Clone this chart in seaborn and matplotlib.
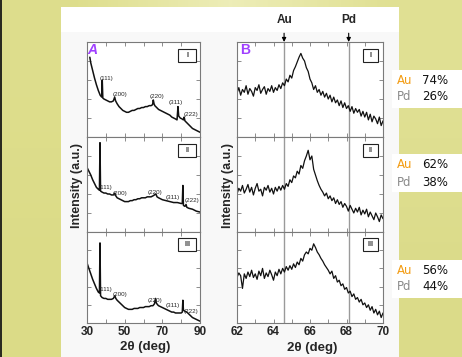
import numpy as np
import pandas as pd
import seaborn as sns
import matplotlib.pyplot as plt
from matplotlib.patches import Rectangle

# Sample compositions
samples = ["I", "II", "III"]
au_pct = [74, 62, 56]
pd_pct = [26, 38, 44]

# Reference peak positions (deg) drawn in panel B
au_ref = 64.58
pd_ref = 68.12

peak_names = ["(111)", "(200)", "(220)", "(311)", "(222)"]

# Panel A: wide scans 30-90 deg (intensity in a.u., 0-100 per frame)
a1_theta = [31.5, 32, 33, 34, 35, 36, 37, 37.8, 38.1, 38.4, 39, 40, 41, 42, 43, 44, 44.7, 45.2,
            46, 47, 48, 49, 50, 51, 52, 53, 54, 55, 56, 57, 58, 59, 60, 61, 62, 63, 64, 64.8,
            65.2, 65.6, 66, 67, 68, 69, 70, 71, 72, 73, 74, 75, 76, 77, 77.8, 78.3, 78.7, 79.5,
            80.5, 81.2, 81.6, 82, 83, 84, 85, 86, 87, 88, 89, 90]
a1_int = [84, 78, 70, 62, 55, 49, 44, 42, 60, 41, 40, 39, 38, 37, 37, 38, 42, 38,
          35, 32, 30, 28, 27, 26, 26, 27, 28, 28, 29, 30, 30, 31, 31, 32, 32, 33, 33, 34,
          39, 35, 33, 31, 29, 28, 27, 26, 25, 24, 23, 21, 20, 19, 18, 32, 22, 20,
          19, 18, 21, 17, 15, 13, 11, 9, 8, 7, 6, 5]

a2_theta = [30, 31, 32, 33, 34, 35, 36, 36.6, 36.9, 37.2, 38, 39, 40, 41, 42, 43, 44, 44.8, 45.3,
            46, 47, 48, 49, 50, 51, 52, 53, 54, 55, 56, 57, 58, 59, 60, 61, 62, 63, 64, 65,
            66.6, 67.2, 68, 70, 72, 74, 76, 78, 80, 80.6, 80.9, 81.2, 82, 82.6, 83, 84, 86, 88, 90]
a2_int = [68, 64, 60, 55, 51, 47, 45, 44, 94, 43, 42, 41, 41, 40, 40, 39, 39, 41, 38,
          36, 35, 34, 33, 32, 32, 32, 33, 33, 34, 34, 35, 35, 36, 36, 36, 37, 37, 37, 38,
          40, 37, 36, 34, 33, 32, 31, 31, 30, 30, 49, 28, 27, 29, 26, 25, 24, 22, 21]

a3_theta = [30, 31, 32, 33, 34, 35, 36, 36.6, 36.9, 37.2, 38, 39, 40, 41, 42, 43, 44, 44.8, 45.3,
            46, 47, 48, 49, 50, 51, 52, 53, 54, 55, 56, 57, 58, 59, 60, 61, 62, 63, 64, 65,
            65.8, 66.4, 66.8, 67.5, 68, 69, 70, 71, 72, 73, 74, 75, 76, 77, 78, 79, 80, 80.6,
            80.9, 81.2, 82, 83, 84, 85, 86, 87, 88, 89, 90]
a3_int = [66, 60, 54, 48, 43, 38, 34, 33, 88, 30, 28, 27, 27, 26, 26, 26, 27, 30, 27,
          25, 23, 21, 19, 17, 16, 15, 15, 15, 16, 16, 16, 17, 17, 17, 18, 18, 18, 19, 19,
          21, 27, 22, 20, 19, 18, 17, 16, 15, 14, 13, 12, 12, 11, 11, 11, 11, 12,
          25, 14, 13, 12, 10, 8, 6, 5, 4, 3, 2]

# Panel B: fine scans around the (220) reflection
b_theta = [62.0, 62.1, 62.2, 62.3, 62.4, 62.5, 62.6, 62.7, 62.8, 62.9,
           63.0, 63.1, 63.2, 63.3, 63.4, 63.5, 63.6, 63.7, 63.8, 63.9,
           64.0, 64.1, 64.2, 64.3, 64.4, 64.5, 64.6, 64.7, 64.8, 64.9,
           65.0, 65.1, 65.2, 65.3, 65.4, 65.5, 65.6, 65.7, 65.8, 65.9,
           66.0, 66.1, 66.2, 66.3, 66.4, 66.5, 66.6, 66.7, 66.8, 66.9,
           67.0, 67.1, 67.2, 67.3, 67.4, 67.5, 67.6, 67.7, 67.8, 67.9,
           68.0, 68.1, 68.2, 68.3, 68.4, 68.5, 68.6, 68.7, 68.8, 68.9,
           69.0, 69.1, 69.2, 69.3, 69.4, 69.5, 69.6, 69.7, 69.8, 69.9,
           70.0]
b1_int = [46, 52, 44, 50, 47, 54, 45, 51, 48, 43,
          52, 49, 55, 46, 50, 53, 45, 51, 48, 54,
          47, 52, 49, 55, 51, 57, 54, 61, 58, 65,
          62, 70, 74, 79, 84, 88, 83, 80, 73, 69,
          61, 57, 50, 54, 47, 50, 44, 48, 42, 46,
          40, 44, 37, 42, 36, 39, 33, 38, 31, 36,
          30, 33, 27, 32, 25, 30, 26, 29, 22, 27,
          21, 26, 18, 24, 16, 22, 19, 14, 21, 12,
          17]
b2_int = [40, 46, 43, 49, 41, 45, 50, 42, 47, 39,
          46, 51, 43, 45, 38, 47, 44, 49, 42, 46,
          40, 47, 43, 48, 44, 49, 45, 51, 48, 55,
          52, 59, 57, 64, 61, 70, 67, 75, 80, 86,
          76, 80, 66, 60, 54, 49, 45, 42, 38, 41,
          35, 38, 33, 36, 30, 34, 29, 32, 26, 30,
          27, 22, 28, 24, 20, 25, 21, 26, 18, 23,
          19, 24, 16, 21, 17, 13, 20, 16, 11, 18,
          14]
b3_int = [50, 55, 52, 38, 54, 49, 56, 51, 58, 50,
          54, 48, 57, 52, 60, 49, 55, 51, 58, 53,
          47, 56, 52, 59, 54, 60, 56, 62, 58, 63,
          59, 65, 61, 67, 64, 71, 68, 75, 78, 76,
          82, 80, 87, 83, 78, 75, 71, 68, 64, 61,
          58, 54, 57, 49, 52, 45, 47, 41, 43, 37,
          39, 33, 35, 29, 32, 26, 28, 23, 26, 20,
          22, 17, 20, 14, 18, 11, 15, 9, 13, 6,
          11]

a_scans = [(a1_theta, a1_int), (a2_theta, a2_int), (a3_theta, a3_int)]
b_scans = [b1_int, b2_int, b3_int]

# label spots for the hkl tags (theta, intensity) per frame
a_tag_xy = [
    [(40.6, 62), (47.5, 45), (67.2, 43), (77.3, 36), (85.2, 24)],
    [(39.6, 47), (47.5, 41), (66.1, 42), (75.7, 36), (85.8, 33)],
    [(39.6, 37), (47.5, 31), (66.1, 25), (75.7, 19), (85.2, 13)],
]

sns.set_style("ticks")
plt.rcParams['font.family'] = ['Liberation Sans', 'DejaVu Sans']

W, H = 462, 357
fig = plt.figure(figsize=(W / 100, H / 100), dpi=100)


def rect(x0, y0, x1, y1):
    return [x0 / W, 1 - y1 / H, (x1 - x0) / W, (y1 - y0) / H]


# slide background
bg = fig.add_axes([0, 0, 1, 1], zorder=-10)
grad = np.array([[[0.87, 0.87, 0.55], [0.93, 0.93, 0.72], [0.88, 0.88, 0.58]],
                 [[0.86, 0.86, 0.53], [0.86, 0.86, 0.54], [0.86, 0.86, 0.54]]])
bg.imshow(grad, extent=[0, 1, 0, 1], aspect='auto', interpolation='bilinear')
bg.set_xlim(0, 1)
bg.set_ylim(0, 1)
bg.axis('off')


def bg_box(x0, y0, x1, y1, color):
    bg.add_patch(Rectangle((x0 / W, 1 - y1 / H), (x1 - x0) / W, (y1 - y0) / H,
                           facecolor=color, edgecolor='none'))


bg_box(0, 0, 2, H, '#2a2a20')
bg_box(61, 7, 399, H, 'white')
bg_box(61, 32, 399, H, '#f8f8f8')
for y0, y1 in [(70, 108), (154, 192), (260, 298)]:
    bg_box(392, y0, W, y1, 'white')

rows = [(42, 137), (137, 232), (232, 323)]
spine_col = '#7a7a7a'


def style_axes(ax):
    ax.set_ylim(0, 100)
    ax.set_yticks([20, 40, 60, 80])
    ax.set_yticklabels([])
    ax.set_xlabel('')
    ax.set_ylabel('')
    ax.set_facecolor('white')
    ax.tick_params(direction='in', top=True, right=True, length=3, width=0.6,
                   color=spine_col, labelsize=8.5, pad=2)
    for s in ax.spines.values():
        s.set_color(spine_col)
        s.set_linewidth(0.8)
    for lab in ax.get_xticklabels():
        lab.set_fontweight('bold')


def tag_box(ax, w, h, text):
    # little sample-number box in the upper right corner
    ax.add_patch(Rectangle((0.965 - w, 0.93 - h), w, h, transform=ax.transAxes,
                           facecolor='white', edgecolor='#222222', lw=0.8))
    ax.text(0.965 - w / 2, 0.93 - h / 2, text, transform=ax.transAxes, ha='center',
            va='center', fontsize=5, fontweight='bold')


axes_b = []
for i, (top, bot) in enumerate(rows):
    # panel A
    ax = fig.add_axes(rect(87, top, 200, bot))
    th, it = a_scans[i]
    sns.lineplot(x=th, y=it, ax=ax, color='#111111', lw=1.1, estimator=None)
    ax.set_xlim(30, 90)
    ax.set_xticks(range(30, 91, 10))
    style_axes(ax)
    if i == 2:
        ax.set_xticklabels(['30', '', '50', '', '70', '', '90'], fontweight='bold')
    else:
        ax.tick_params(labelbottom=False)
    for name, (tx, ty) in zip(peak_names, a_tag_xy[i]):
        ax.text(tx, ty, name, ha='center', va='center', fontsize=4.5)
    tag_box(ax, 18 / 113, 13 / (bot - top), samples[i])

    # panel B
    bx = fig.add_axes(rect(237, top, 383, bot))
    sns.lineplot(x=b_theta, y=b_scans[i], ax=bx, color='#111111', lw=0.9, estimator=None)
    bx.axvline(au_ref, color='#9a9a9a', lw=1.0, zorder=0)
    bx.axvline(pd_ref, color='#9a9a9a', lw=1.0, zorder=0)
    bx.set_xlim(62, 70)
    bx.set_xticks(range(62, 71))
    style_axes(bx)
    if i == 2:
        bx.set_xticklabels(['62', '', '64', '', '66', '', '68', '', '70'], fontweight='bold')
    else:
        bx.tick_params(labelbottom=False)
    tag_box(bx, 15 / 146, 13 / (bot - top), samples[i])
    axes_b.append(bx)

    if i == 0:
        ax.text(0.05, 0.92, 'A', transform=ax.transAxes, ha='center', va='center',
                fontsize=10, fontweight='bold', fontstyle='italic', color='#a040ff')
        bx.text(0.055, 0.92, 'B', transform=bx.transAxes, ha='center', va='center',
                fontsize=10, fontweight='bold', color='#a040ff')

# element markers above panel B
for name, pos in [('Au', au_ref), ('Pd', pd_ref)]:
    axes_b[0].annotate(name, xy=(pos, 1.0), xycoords=('data', 'axes fraction'),
                       xytext=(0, 16), textcoords='offset points', ha='center', va='center',
                       fontsize=8.5, fontweight='bold',
                       arrowprops=dict(arrowstyle='-|>', color='black', lw=0.8,
                                       mutation_scale=6, shrinkA=3, shrinkB=0))

# axis labels
for x in (77, 228):
    fig.text(x / W, 1 - 185 / H, 'Intensity (a.u.)', rotation=90, ha='center', va='center',
             fontsize=9, fontweight='bold')
fig.text(145 / W, 1 - 347 / H, '2θ (deg)', ha='center', va='center', fontsize=9.5,
         fontweight='bold')
fig.text(312 / W, 1 - 348 / H, '2θ (deg)', ha='center', va='center', fontsize=9.5,
         fontweight='bold')

# composition side notes
for i, yc in enumerate([80, 165, 270]):
    y1 = 1 - yc / H
    y2 = 1 - (yc + 17) / H
    fig.text(397 / W, y1, 'Au', ha='left', va='center', fontsize=8.5, color='#f39c12',
             family='DejaVu Sans')
    fig.text(422 / W, y1, f'{au_pct[i]}%', ha='left', va='center', fontsize=8.5,
             color='#111111', family='DejaVu Sans')
    fig.text(397 / W, y2, 'Pd', ha='left', va='center', fontsize=8.5, color='#8a8a8a',
             family='DejaVu Sans')
    fig.text(422 / W, y2, f'{pd_pct[i]}%', ha='left', va='center', fontsize=8.5,
             color='#111111', family='DejaVu Sans')

plt.savefig('out.png', dpi=100)
